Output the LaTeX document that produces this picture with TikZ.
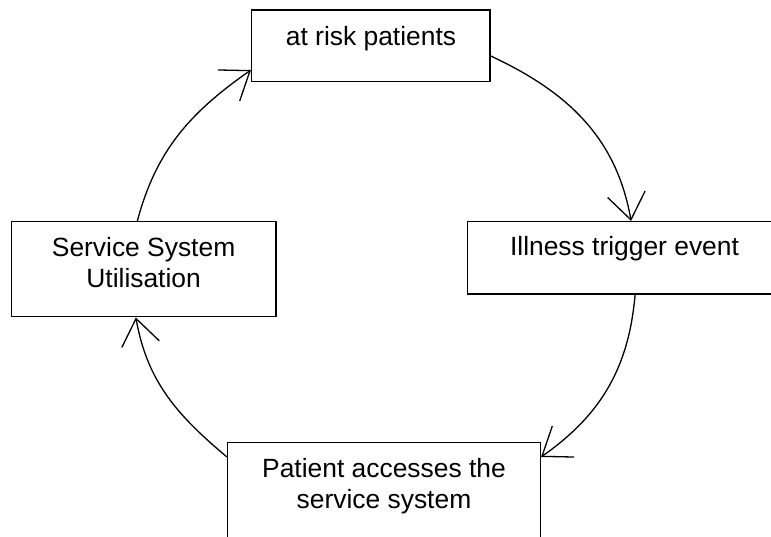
\documentclass[tikz,border=0pt]{standalone}
\usepackage{fontspec}
\setmainfont{Liberation Sans}
\usetikzlibrary{arrows.meta}
\begin{document}
\begin{tikzpicture}[x=1pt,y=-1pt,
  box/.style={draw,line width=1.5pt,rectangle,inner sep=0pt},
  lbl/.style={inner sep=0pt,align=center,anchor=base,font=\fontsize{26.4}{31}\selectfont},
  flow/.style={line width=1.3pt,-{Straight Barb[length=26pt,width=38pt,line width=1.3pt]}}]
\clip (0,0) rectangle (771,537);
\fill[white] (0,0) rectangle (771,537);
% boxes
\node[box,minimum width=238.3pt,minimum height=71.7pt] (tbox) at (370.85,45.85) {};
\node[box,minimum width=314.7pt,minimum height=72.3pt] (rbox) at (624.6,257.85) {};
\node[box,minimum width=264.3pt,minimum height=95pt] (lbox) at (143.85,269.2) {};
\node[box,minimum width=312.6pt,minimum height=129.7pt] (bbox) at (384,507.15) {};
% labels
\node[lbl] (tlbl) at (371,45.7) {at risk patients};
\node[lbl] (rlbl) at (624.5,256) {Illness trigger event};
\node[lbl] (llbl) at (143.6,287.3) {Service System\\Utilisation};
\node[lbl] (blbl) at (384,508) {Patient accesses the\\service system};
% connectors
\draw[flow] ([xshift=-6.5pt]lbox.north) to[out=75,in=215] ([yshift=-24.15pt]tbox.west);
\draw[flow] ([yshift=-10.15pt]tbox.east) to[out=-25,in=100] ([xshift=6.5pt]rbox.north);
\draw[flow] ([xshift=10.5pt]rbox.south) to[out=-95,in=35] ([yshift=50.15pt]bbox.east);
\draw[flow] ([yshift=50.15pt]bbox.west) to[out=140,in=-80] ([xshift=-8pt]lbox.south);
\end{tikzpicture}
\end{document}
